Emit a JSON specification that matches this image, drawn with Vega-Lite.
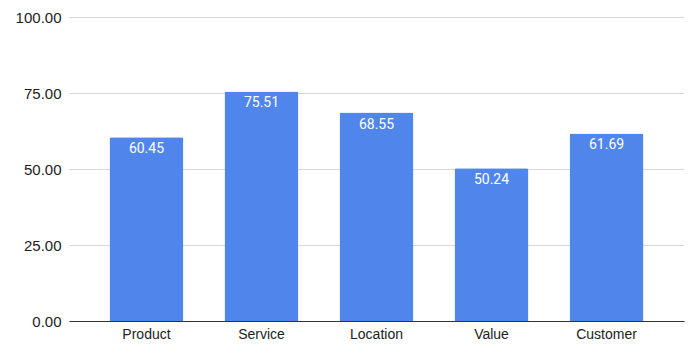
{
  "$schema": "https://vega.github.io/schema/vega-lite/v6.json",
  "width": 615,
  "height": 304,
  "autosize": {"type": "none"},
  "padding": {"left": 69, "top": 17, "right": 16, "bottom": 34},
  "background": "white",
  "config": {"view": {"stroke": null}},
  "data": {
    "values": [
      {"category": "Product", "score": 60.45},
      {"category": "Service", "score": 75.51},
      {"category": "Location", "score": 68.55},
      {"category": "Value", "score": 50.24},
      {"category": "Customer", "score": 61.69}
    ]
  },
  "encoding": {
    "x": {
      "field": "category",
      "type": "nominal",
      "sort": null,
      "scale": {"paddingInner": 0.357, "paddingOuter": 0.352},
      "axis": {
        "title": null,
        "labelAngle": 0,
        "labelFont": "Liberation Sans",
        "labelFontSize": 14,
        "labelColor": "#222222",
        "labelPadding": 6,
        "ticks": false,
        "domainColor": "#333333",
        "domainWidth": 1
      }
    },
    "y": {
      "field": "score",
      "type": "quantitative",
      "scale": {"domain": [0, 100], "nice": false},
      "axis": {
        "title": null,
        "values": [0, 25, 50, 75, 100],
        "format": ".2f",
        "labelFont": "Liberation Sans",
        "labelFontSize": 15,
        "labelColor": "#222222",
        "labelPadding": 8,
        "ticks": false,
        "domain": false,
        "gridColor": "#d9d9d9",
        "gridWidth": 1
      }
    }
  },
  "layer": [
    {
      "mark": {"type": "bar", "color": "#5086ec", "cornerRadiusTopLeft": 2, "cornerRadiusTopRight": 2}
    },
    {
      "mark": {"type": "text", "color": "white", "font": "Roboto", "fontSize": 14, "baseline": "top", "dy": 5},
      "encoding": {
        "text": {"field": "score", "type": "quantitative", "format": ".2f"}
      }
    }
  ]
}
